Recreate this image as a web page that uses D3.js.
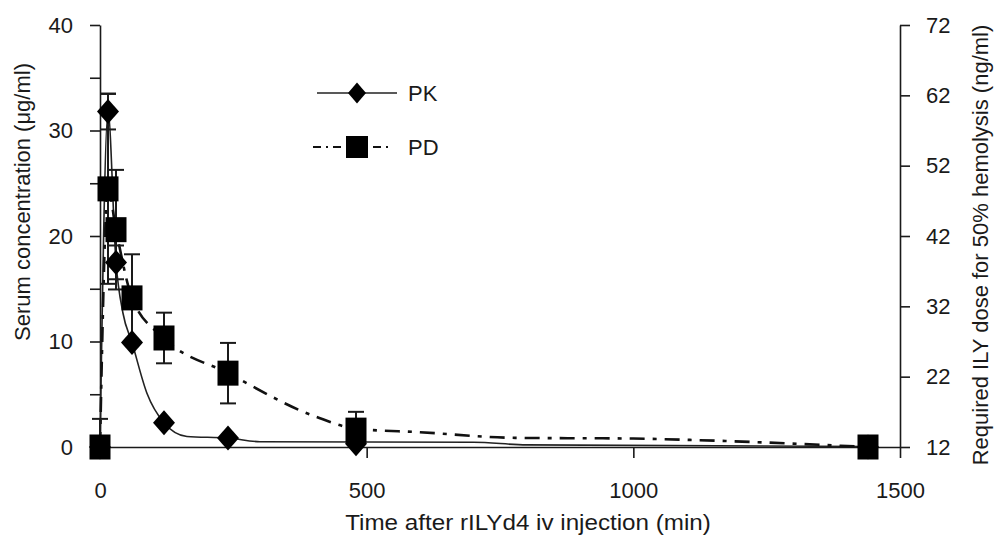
<!DOCTYPE html>
<html><head><meta charset="utf-8">
<script src="https://cdn.jsdelivr.net/npm/d3@7"></script>
<style>
body{margin:0;background:#fff;}
text{font-family:"Liberation Sans",Arial,sans-serif;fill:#1a1a1a;}
</style></head>
<body><svg id="c" width="999" height="540"></svg>
<script>
// ---- data ----
const pkTime = [0, 15, 30, 60, 120, 240, 480, 1440];
const pkMean = [0, 31.8, 17.5, 9.9, 2.3, 0.85, 0.3, 0];
const pkErr  = [0, 1.7, 1.6, 0, 0, 0, 0, 0];
const pdTime = [0, 15, 30, 60, 120, 240, 480, 1440];
const pdMean = [12, 48.7, 42.9, 33.2, 27.5, 22.5, 14.4, 12];
const pdErr  = [4, 13.5, 8.5, 6.2, 3.6, 4.3, 2.6, 0];
// drawn curves
const pkCurveT = [0, 15, 30, 43, 60, 88, 120, 163, 240, 300, 700, 800, 1440];
const pkCurveV = [0, 31.8, 17.5, 12.7, 9.9, 5.1, 2.3, 1.0, 0.85, 0.5, 0.45, 0.2, 0.05];
const pdCurveT = [0, 15, 30, 60, 120, 240, 405, 480, 600, 780, 1000, 1110, 1440];
const pdCurveV = [12, 48.7, 42.9, 33.2, 27.5, 22.5, 16.3, 14.6, 14.1, 13.3, 13.2, 13.0, 12];
const xTicks = [0, 500, 1000, 1500];
const yLeftTicks = [0, 5, 10, 15, 20, 25, 30, 35, 40];
const yRightTicks = [12, 22, 32, 42, 52, 62, 72];
const xTitle = "Time after rILYd4 iv injection (min)";
const yLeftTitle = "Serum concentration (\u03bcg/ml)";
const yRightTitle = "Required ILY dose for 50% hemolysis (ng/ml)";

const svg = d3.select("#c");
const x = d3.scaleLinear().domain([0,1500]).range([100,900]);
const yL = d3.scaleLinear().domain([0,40]).range([447,25]);
const yR = d3.scaleLinear().domain([12,72]).range([447,25]);
const FS = 22;
const ink = "#1a1a1a";

function styleAxis(g){
  g.selectAll("path.domain").attr("stroke", ink).attr("stroke-width", 1.6);
  g.selectAll(".tick line").attr("stroke", ink).attr("stroke-width", 1.6);
  g.selectAll(".tick text").attr("font-size", FS).attr("font-family", '"Liberation Sans",Arial,sans-serif').attr("fill", ink);
}
const gx = svg.append("g").attr("transform","translate(0,447)")
  .call(d3.axisBottom(x).tickValues(xTicks).tickSize(11).tickSizeOuter(0).tickPadding(24).tickFormat(d3.format("d")));
styleAxis(gx);
const gl = svg.append("g").attr("transform","translate(100,0)")
  .call(d3.axisLeft(yL).tickValues(yLeftTicks).tickSize(10).tickSizeOuter(0).tickPadding(17)
    .tickFormat(d => d % 10 === 0 ? d : ""));
styleAxis(gl);
const gr = svg.append("g").attr("transform","translate(900,0)")
  .call(d3.axisRight(yR).tickValues(yRightTicks).tickSize(10).tickSizeOuter(0).tickPadding(16));
styleAxis(gr);

// titles
svg.append("text").attr("transform",`translate(${(x(0)+x(1500))/2+28},530) scale(1.1,1)`).attr("text-anchor","middle")
  .attr("font-size",FS).text(xTitle);
svg.append("text").attr("transform","translate(30,202) rotate(-90)").attr("text-anchor","middle")
  .attr("font-size",FS).text(yLeftTitle);
svg.append("text").attr("transform","translate(988,245) rotate(-90)").attr("text-anchor","middle")
  .attr("font-size",FS).text(yRightTitle);

// lines
const pkLine = d3.line().x(d=>x(d[0])).y(d=>yL(d[1])).curve(d3.curveMonotoneX);
const pdLine = d3.line().x(d=>x(d[0])).y(d=>yR(d[1])).curve(d3.curveMonotoneX);
svg.append("path").datum(pkCurveT.map((t,i)=>[t,pkCurveV[i]]))
  .attr("d",pkLine).attr("fill","none").attr("stroke","#222").attr("stroke-width",1.6);
svg.append("path").datum(pdCurveT.map((t,i)=>[t,pdCurveV[i]]))
  .attr("d",pdLine).attr("fill","none").attr("stroke","#111").attr("stroke-width",2.6)
  .attr("stroke-dasharray","15,8,4,8");

// error bars
function errBars(ts, ms, es, y){
  const g = svg.append("g").attr("stroke", ink).attr("stroke-width", 2);
  ts.forEach((t,i)=>{
    if(!es[i]) return;
    const cx = x(t), y1 = y(ms[i]+es[i]), y0 = y(ms[i]-es[i]);
    g.append("line").attr("x1",cx).attr("x2",cx).attr("y1",y1).attr("y2",Math.min(y0,447));
    g.append("line").attr("x1",cx-8).attr("x2",cx+8).attr("y1",y1).attr("y2",y1);
    if (ms[i]-es[i] > y.domain()[0]) g.append("line").attr("x1",cx-8).attr("x2",cx+8).attr("y1",y0).attr("y2",y0);
  });
}
errBars(pkTime, pkMean, pkErr, yL);
errBars(pdTime, pdMean, pdErr, yR);

// markers
const diamond = (cx,cy,w,h) => `M${cx},${cy-h/2}L${cx+w/2},${cy}L${cx},${cy+h/2}L${cx-w/2},${cy}Z`;
svg.append("g").selectAll("path").data(pkTime.map((t,i)=>[t,pkMean[i]])).join("path")
  .attr("d", d => diamond(x(d[0]), yL(d[1]), 22, 25)).attr("fill","#000");
svg.append("g").selectAll("rect").data(pdTime.map((t,i)=>[t,pdMean[i]])).join("rect")
  .attr("x", d => x(d[0]) - 10.5).attr("y", d => yR(d[1]) - 12.5)
  .attr("width", 21).attr("height", 25).attr("fill","#000");

// legend
const lg = svg.append("g");
lg.append("line").attr("x1",317).attr("x2",397).attr("y1",93).attr("y2",93).attr("stroke","#222").attr("stroke-width",1.6);
lg.append("path").attr("d",diamond(357,93,18,21)).attr("fill","#000");
lg.append("text").attr("x",408).attr("y",93).attr("dy","0.35em").attr("font-size",FS).text("PK");
lg.append("line").attr("x1",313).attr("x2",392).attr("y1",147).attr("y2",147).attr("stroke","#111").attr("stroke-width",2)
  .attr("stroke-dasharray","8,5,2,5");
lg.append("rect").attr("x",346).attr("y",136).attr("width",22).attr("height",22).attr("fill","#000");
lg.append("text").attr("x",408).attr("y",147).attr("dy","0.35em").attr("font-size",FS).text("PD");
</script></body></html>
